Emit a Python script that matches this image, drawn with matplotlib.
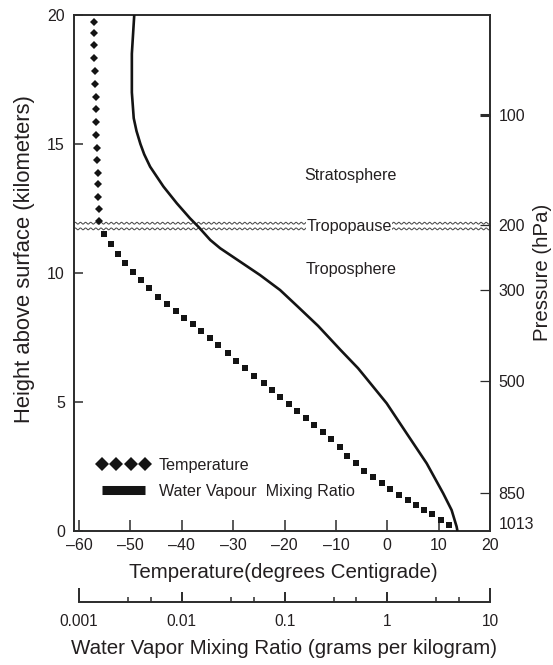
import numpy as np
import matplotlib
matplotlib.use("Agg")
import matplotlib.pyplot as plt
from matplotlib.lines import Line2D

plt.rcParams['font.family'] = ['Liberation Sans', 'DejaVu Sans']

# ---------------- data ----------------
# Temperature profile, stratosphere part (diamonds)
strat_temp = [-57.2, -57.1, -57.1, -57.1, -57.0, -56.9, -56.8, -56.7, -56.7,
              -56.7, -56.5, -56.5, -56.4, -56.3, -56.3, -56.2, -56.1]
strat_height = [19.72, 19.30, 18.84, 18.32, 17.84, 17.33, 16.83, 16.34, 15.87,
                15.35, 14.86, 14.38, 13.89, 13.44, 12.96, 12.49, 12.03]

# Temperature profile, troposphere part (squares)
trop_temp = [-55.1, -53.8, -52.5, -51.1, -49.5, -48.0, -46.3, -44.6, -42.9, -41.2,
             -39.6, -37.9, -36.3, -34.6, -32.9, -31.1, -29.4, -27.7, -25.9, -24.1,
             -22.5, -20.9, -19.2, -17.5, -15.9, -14.3, -12.6, -11.0, -9.3, -7.8,
             -6.1, -4.5, -2.7, -1.1, 0.5, 2.3, 4.0, 5.6, 7.2, 8.8, 10.4, 12.1]
trop_height = [11.51, 11.11, 10.72, 10.38, 10.05, 9.73, 9.41, 9.08, 8.80, 8.53,
               8.27, 8.02, 7.76, 7.48, 7.21, 6.91, 6.60, 6.33, 6.02, 5.75,
               5.47, 5.18, 4.92, 4.65, 4.38, 4.10, 3.83, 3.55, 3.24, 2.92,
               2.62, 2.34, 2.08, 1.85, 1.62, 1.38, 1.20, 1.01, 0.83, 0.65, 0.43, 0.24]

# Water vapour mixing ratio profile (g/kg)
wv_height = [20.0, 18.5, 17.0, 16.0, 15.5, 15.0, 14.6, 14.12, 13.35, 12.70, 12.12,
             11.79, 11.28, 10.96, 10.44, 9.92, 9.34, 8.69, 7.95, 7.02, 6.31, 5.98,
             4.95, 3.79, 2.62, 1.46, 0.81, 0.17, 0.0]
wv_ratio = [0.00344, 0.00326, 0.00326, 0.00340, 0.00362, 0.00395, 0.00430, 0.00491,
            0.00662, 0.00894, 0.0120, 0.0145, 0.0189, 0.0236, 0.0369, 0.0577, 0.0904,
            0.135, 0.212, 0.350, 0.519, 0.607, 0.986, 1.54, 2.42, 3.50, 4.23, 4.73, 4.82]

tropopause_heights = [11.93, 11.71]

height_ticks = [0, 5, 10, 15, 20]
temp_ticks = [-60, -50, -40, -30, -20, -10, 0, 10, 20]
pressure_labels = ['100', '200', '300', '500', '850', '1013']
pressure_heights = [16.12, 11.86, 9.34, 5.83, 1.46, 0.30]
ratio_ticks = [0.001, 0.01, 0.1, 1, 10]
ratio_labels = ['0.001', '0.01', '0.1', '1', '10']
ratio_minor = [0.003, 0.005, 0.03, 0.05, 0.3, 0.5, 3, 5]

# temperature axis <-> log mixing-ratio axis alignment
T_MIN, T_MAX = -61, 20
T_AT_0001, DEG_PER_DECADE = -60, 20
def t_to_ratio(t):
    return 10 ** (-3 + (t - T_AT_0001) / DEG_PER_DECADE)

TXT = '#231f20'
SPINE = '#2b2b2b'
MARK = '#141414'
TICK_FS = 11.5
XLAB_FS = 14.8
YLAB_FS = 15.8
NOTE_FS = 11.6

W, H = 553, 665
fig = plt.figure(figsize=(W / 100, H / 100), dpi=100)
ax = fig.add_axes([74 / W, 1 - 531 / H, 416 / W, 516 / H])
ax.set_xlim(T_MIN, T_MAX)
ax.set_ylim(0, 20)

for s in ax.spines.values():
    s.set_color(SPINE)
    s.set_linewidth(1.4)

# tropopause wavy double line
xs = np.linspace(T_MIN, T_MAX, 3000)
for h0 in tropopause_heights:
    ax.plot(xs, h0 + 0.035 * np.sin(2 * np.pi * xs / 1.0), color='#4a4a4a', lw=0.75, zorder=2)

ax.text(-7.45, 11.82, 'Tropopause', ha='center', va='center', fontsize=NOTE_FS, color=TXT,
        bbox=dict(facecolor='white', edgecolor='none', pad=0.4), zorder=3)
ax.text(-7.25, 13.76, 'Stratosphere', ha='center', va='center', fontsize=NOTE_FS, color=TXT)
ax.text(-7.1, 10.12, 'Troposphere', ha='center', va='center', fontsize=NOTE_FS, color=TXT)

# temperature markers
ax.plot(strat_temp, strat_height, ls='none', marker='D', ms=4.3, color=MARK, mew=0, zorder=4)
ax.plot(trop_temp, trop_height, ls='none', marker='s', ms=4.8, color=MARK, mew=0, zorder=4)

ax.set_xticks(temp_ticks)
ax.set_xticklabels([f'{t}'.replace('-', '\u2013') for t in temp_ticks])
ax.set_yticks(height_ticks)
ax.tick_params(axis='x', direction='in', length=8, width=1.1, color=SPINE,
               labelsize=TICK_FS, labelcolor=TXT, pad=5)
ax.tick_params(axis='y', direction='in', length=6.5, width=1.1, color=SPINE,
               labelsize=TICK_FS, labelcolor=TXT, pad=6.5)
ax.set_xlabel('Temperature(degrees Centigrade)', fontsize=XLAB_FS, color=TXT, va='center')
ax.xaxis.set_label_coords(283 / W, 1 - 572 / H, transform=fig.transFigure)
ax.set_ylabel('Height above surface (kilometers)', fontsize=YLAB_FS, color=TXT, va='center')
ax.yaxis.set_label_coords(25 / W, 1 - 259 / H, transform=fig.transFigure)

# water vapour curve on log axis aligned with the temperature axis
axw = ax.twiny()
axw.set_xscale('log')
axw.set_xlim(t_to_ratio(T_MIN), t_to_ratio(T_MAX))
axw.set_ylim(0, 20)
axw.plot(wv_ratio, wv_height, color=MARK, lw=1.9, zorder=5, solid_capstyle='butt',
         solid_joinstyle='round')
axw.xaxis.set_visible(False)
for s in axw.spines.values():
    s.set_visible(False)

# pressure axis on the right
axr = ax.twinx()
axr.set_ylim(0, 20)
for s in axr.spines.values():
    s.set_visible(False)
axr.set_yticks(pressure_heights)
axr.set_yticklabels(pressure_labels)
axr.tick_params(axis='y', direction='in', length=7, width=0.9, color=SPINE,
                labelsize=TICK_FS, labelcolor=TXT, pad=6)
ticks = axr.yaxis.get_major_ticks()
ticks[0].tick2line.set_markeredgewidth(2.2)
ticks[-1].tick2line.set_visible(False)
axr.set_ylabel('Pressure (hPa)', fontsize=14.7, color=TXT, va='center')
axr.yaxis.set_label_coords(542 / W, 1 - 272 / H, transform=fig.transFigure)

# legend
handles = [Line2D([], [], ls='none', marker='D', ms=6.8, color=MARK, mew=0),
           Line2D([], [], color=MARK, lw=6.5, solid_capstyle='butt')]
ax.legend(handles, ['Temperature', 'Water Vapour  Mixing Ratio'], numpoints=4,
          loc='lower left', bbox_to_anchor=(0.040, 0.0495), frameon=False, fontsize=NOTE_FS,
          handlelength=3.3, handletextpad=0.55, labelspacing=0.7, borderaxespad=0,
          labelcolor=TXT)

# mixing-ratio scale below
axb = fig.add_axes([74 / W, 1 - 602 / H, 416 / W, 0.0001])
axb.set_xscale('log')
axb.set_xlim(t_to_ratio(T_MIN), t_to_ratio(T_MAX))
axb.set_yticks([])
for k in ['left', 'right', 'top']:
    axb.spines[k].set_visible(False)
axb.spines['bottom'].set_bounds(ratio_ticks[0], ratio_ticks[-1])
axb.spines['bottom'].set_color(SPINE)
axb.spines['bottom'].set_linewidth(1.4)
axb.patch.set_visible(False)
axb.set_xticks(ratio_ticks)
axb.set_xticklabels(ratio_labels)
axb.set_xticks(ratio_minor, minor=True)
axb.xaxis.set_minor_formatter(plt.NullFormatter())
axb.tick_params(axis='x', which='major', direction='in', length=7.5, width=1.4,
                color=SPINE, labelsize=11.2, labelcolor=TXT, pad=9)
axb.tick_params(axis='x', which='minor', direction='in', length=3.5, width=1.1, color=SPINE)
bt = axb.xaxis.get_major_ticks()
bt[0].tick1line.set_markersize(10)
bt[-1].tick1line.set_markersize(10)
axb.set_xlabel('Water Vapor Mixing Ratio (grams per kilogram)', fontsize=XLAB_FS,
               color=TXT, va='center')
axb.xaxis.set_label_coords(284 / W, 1 - 648 / H, transform=fig.transFigure)

fig.savefig('out.png', dpi=100)
